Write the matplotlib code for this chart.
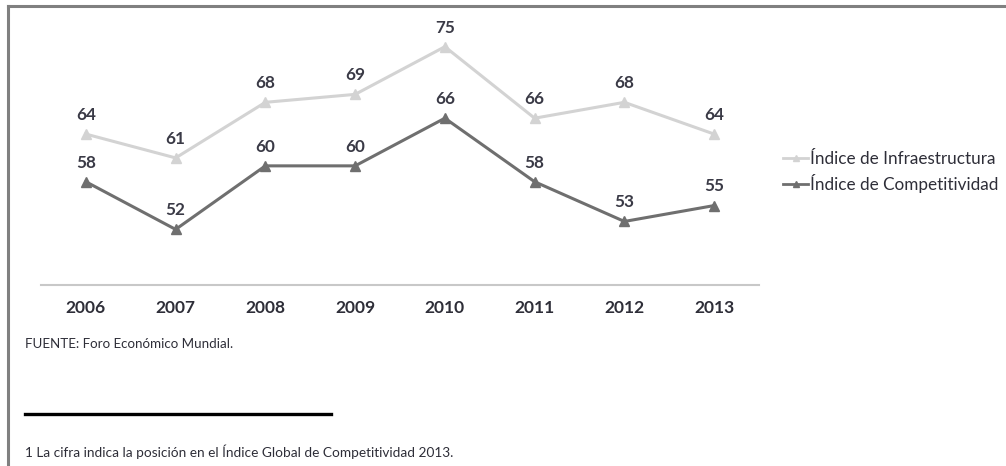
import matplotlib
matplotlib.use("Agg")
import matplotlib.pyplot as plt
from matplotlib.lines import Line2D

plt.rcParams['font.family'] = ['Lato', 'DejaVu Sans']

years = ["2006", "2007", "2008", "2009", "2010", "2011", "2012", "2013"]
infraestructura = [64, 61, 68, 69, 75, 66, 68, 64]
competitividad = [58, 52, 60, 60, 66, 58, 53, 55]
series_names = ["Índice de Infraestructura", "Índice de Competitividad"]

W, H = 1006, 466
fig = plt.figure(figsize=(W / 100, H / 100), dpi=100)
fig.patch.set_facecolor("white")

light = "#d3d3d3"
dark = "#6f6f6f"
txt = "#2e2e38"

ax = fig.add_axes([41 / W, 1 - 285 / H, (759 - 41) / W, (285 - 7) / H])
x = list(range(len(years)))
ax.plot(x, infraestructura, color=light, lw=2.2, marker="^", ms=6.5, zorder=2)
ax.plot(x, competitividad, color=dark, lw=2.2, marker="^", ms=6.5, zorder=3)
for series in (infraestructura, competitividad):
    for xi, v in zip(x, series):
        ax.annotate(str(v), (xi, v), xytext=(0, 8), textcoords="offset points",
                    ha="center", va="bottom", fontsize=12.3, fontweight="bold",
                    color="#3a3a46")
ax.set_xlim(-0.5, len(years) - 0.5)
ax.set_ylim(45, 80)
ax.set_xticks(x)
ax.set_xticklabels(years, fontsize=12.5, fontweight="bold", color=txt)
ax.tick_params(axis="x", length=0, pad=11)
ax.set_yticks([])
for s in ["top", "right", "left"]:
    ax.spines[s].set_visible(False)
ax.spines["bottom"].set_color("#c8c8c8")
ax.spines["bottom"].set_linewidth(1.5)
ax.set_facecolor("none")

handles = [Line2D([0], [0], color=light, lw=2, marker="^", ms=5),
           Line2D([0], [0], color=dark, lw=2, marker="^", ms=5)]
fig.legend(handles, series_names, loc="center left",
           bbox_to_anchor=(776 / W, 1 - 172 / H), frameon=False,
           fontsize=12.3, labelcolor=txt, handlelength=1.5, handletextpad=0.1,
           labelspacing=0.45, borderaxespad=0)

# frame lines
fig.add_artist(Line2D([8 / W, 8 / W], [0, 1 - 6 / H], color="#808080", lw=2.2))
fig.add_artist(Line2D([8 / W, 1], [1 - 6 / H, 1 - 6 / H], color="#808080", lw=2.2))

fig.text(25 / W, 1 - 344 / H, "FUENTE: Foro Económico Mundial.", fontsize=9.6,
         color=txt, va="center", ha="left")
fig.add_artist(Line2D([25 / W, 331 / W], [1 - 414 / H, 1 - 414 / H], color="black", lw=2.4))
fig.text(25 / W, 1 - 452 / H,
         "1 La cifra indica la posición en el Índice Global de Competitividad 2013.",
         fontsize=9.8, color=txt, va="center", ha="left")

fig.savefig("out.png", dpi=100)
